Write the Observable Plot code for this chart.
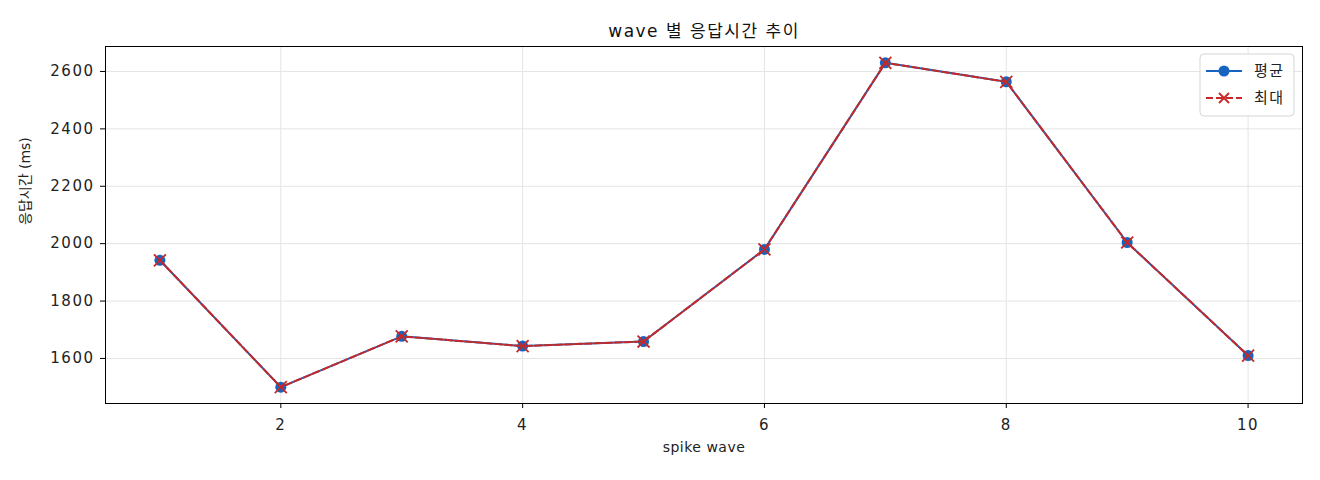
<!DOCTYPE html>
<html><head><meta charset="utf-8">
<script src="https://cdn.jsdelivr.net/npm/d3@7"></script>
<script src="https://cdn.jsdelivr.net/npm/@observablehq/plot@0.6"></script>
<style>body{margin:0;background:#fff;font-family:"DejaVu Sans","Noto Sans CJK KR",sans-serif}</style>
</head><body><div id="chart"></div>
<script>
const waves = [1, 2, 3, 4, 5, 6, 7, 8, 9, 10];
const avgMs = [1942, 1500, 1677, 1643, 1659, 1980, 2630, 2564, 2004, 1610];
const maxMs = [1942, 1500, 1677, 1643, 1659, 1980, 2630, 2564, 2004, 1610];
const xTicks = [2, 4, 6, 8, 10];
const yTicks = [1600, 1800, 2000, 2200, 2400, 2600];
const seriesNames = ["평균", "최대"];
const titleText = "wave 별 응답시간 추이";
const xLabel = "spike wave";
const yLabel = "응답시간 (ms)";

const blue = "#1565c0", red = "#c62828";
const FONT = '"DejaVu Sans","Noto Sans CJK KR",sans-serif';
const data = waves.map((w, i) => ({wave: w, avg: avgMs[i], max: maxMs[i]}));

const svg = Plot.plot({
  width: 1320, height: 480,
  marginLeft: 105, marginRight: 18, marginTop: 46, marginBottom: 77,
  style: {fontFamily: FONT, fontSize: "15px", color: "#222", background: "#fff"},
  x: {domain: [0.55, 10.45], label: null},
  y: {domain: [1443, 2687], label: null},
  marks: [
    Plot.gridX(xTicks, {stroke: "#e4e4e4", strokeOpacity: 1, strokeWidth: 1}),
    Plot.gridY(yTicks, {stroke: "#e4e4e4", strokeOpacity: 1, strokeWidth: 1}),
    Plot.axisX(xTicks, {tickSize: 5, tickPadding: 11, fontSize: 15, label: null, stroke: "#000", fill: "#222", tickFormat: "d"}),
    Plot.axisY(yTicks, {tickSize: 5, tickPadding: 6, fontSize: 15, label: null, stroke: "#000", fill: "#222", tickFormat: "d"}),
    Plot.frame({stroke: "#000", strokeWidth: 1}),
    Plot.line(data, {x: "wave", y: "avg", stroke: blue, strokeWidth: 2}),
    Plot.dot(data, {x: "wave", y: "avg", r: 5.5, fill: blue, stroke: "none"}),
    Plot.line(data, {x: "wave", y: "max", stroke: red, strokeWidth: 2, strokeDasharray: "7,3"}),
    Plot.dot(data, {x: "wave", y: "max", symbol: "times", r: 5.5, stroke: red, strokeWidth: 1.8}),
    Plot.text([titleText], {frameAnchor: "top", dy: -22, fontSize: 17, fill: "#111"}),
    Plot.text([xLabel], {frameAnchor: "bottom", dy: 48, fontSize: 14, fill: "#222"}),
    Plot.text([yLabel], {frameAnchor: "left", dx: -80, rotate: -90, fontSize: 14, fill: "#222"})
  ]
});

// letter spacing to approximate the wide reference font
d3.select(svg).selectAll("[aria-label='x-axis tick label'] text, [aria-label='y-axis tick label'] text")
  .style("letter-spacing", "1.5px");
d3.select(svg).selectAll("[aria-label='text'] text").each(function () {
  const t = d3.select(this).text();
  if (t === titleText) d3.select(this).style("letter-spacing", "1.5px");
  if (t === xLabel) d3.select(this).style("letter-spacing", "0.5px");
});

// legend (upper right, inside the frame)
const g = d3.select(svg).append("g").attr("transform", "translate(1200,54)");
g.append("rect").attr("width", 94).attr("height", 62).attr("rx", 4)
  .attr("fill", "#fff").attr("fill-opacity", 0.85).attr("stroke", "#d5d5d5");
const rows = [
  {name: seriesNames[0], color: blue, dash: null, sym: "circle"},
  {name: seriesNames[1], color: red, dash: "7,3", sym: "times"}
];
rows.forEach((r, i) => {
  const y = 17 + i * 27;
  g.append("line").attr("x1", 6).attr("x2", 42).attr("y1", y).attr("y2", y)
    .attr("stroke", r.color).attr("stroke-width", 2).attr("stroke-dasharray", r.dash);
  if (r.sym === "circle") {
    g.append("circle").attr("cx", 24).attr("cy", y).attr("r", 5.5).attr("fill", r.color);
  } else {
    g.append("path").attr("d", `M19,${y-5}L29,${y+5}M19,${y+5}L29,${y-5}`)
      .attr("stroke", r.color).attr("stroke-width", 1.8);
  }
  g.append("text").attr("x", 54).attr("y", y).attr("dy", "0.35em")
    .attr("text-anchor", "start").attr("font-family", FONT)
    .attr("font-size", 15).style("letter-spacing", "1.5px").attr("fill", "#222").text(r.name);
});

document.getElementById("chart").append(svg);
</script>
</body></html>
